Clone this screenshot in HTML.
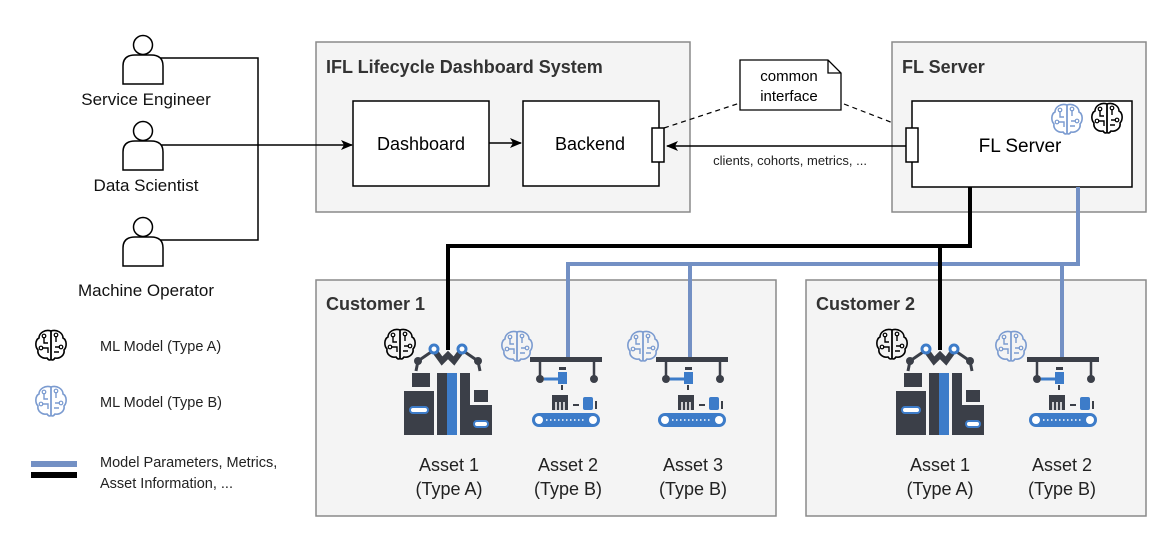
<!DOCTYPE html>
<html><head><meta charset="utf-8"><style>body{margin:0;background:#fff}svg{display:block}text{font-family:"Liberation Sans",Arial,sans-serif}</style></head>
<body>
<svg width="1172" height="538" viewBox="0 0 1172 538" xmlns="http://www.w3.org/2000/svg">
<defs>
<marker id="ar" markerWidth="12" markerHeight="10" refX="11" refY="5" orient="auto" markerUnits="userSpaceOnUse"><path d="M0,0 L12,5 L0,10 L3,5 Z" fill="#000"/></marker>
<g id="brain">
<path d="M0,-14 C-6,-16 -12,-12 -12,-7 C-16,-5 -16,2 -13,5 C-14,10 -9,14 -4,13 C-2,16 0,15 0,14 Z M0,-14 C6,-16 12,-12 12,-7 C16,-5 16,2 13,5 C14,10 9,14 4,13 C2,16 0,15 0,14 Z" fill="none" stroke-width="1.6"/>
<path d="M0,-14 V14 M-7,-8 V-2 H-3 M-9,3 H-3 V8 M5,-9 V-3 M4,2 H9 M3,7 H8" fill="none" stroke-width="1.4"/>
<circle cx="-7" cy="-9" r="1.8" fill="none" stroke-width="1.2"/><circle cx="5" cy="-10" r="1.8" fill="none" stroke-width="1.2"/><circle cx="-10" cy="3" r="1.8" fill="none" stroke-width="1.2"/><circle cx="10" cy="2" r="1.8" fill="none" stroke-width="1.2"/>
</g>
<g id="robot">
<rect x="-36" y="10" width="18" height="14" fill="#3b3f48"/>
<rect x="-44" y="28" width="30" height="44" fill="#3b3f48"/>
<rect x="-11" y="10" width="10" height="62" fill="#3b3f48"/>
<rect x="-1" y="10" width="10" height="62" fill="#3d7cc9"/>
<rect x="12" y="10" width="10" height="62" fill="#3b3f48"/>
<rect x="26" y="27" width="14" height="12" fill="#3b3f48"/>
<rect x="22" y="42" width="22" height="30" fill="#3b3f48"/>
<rect x="-38" y="44" width="18" height="6" rx="3" fill="#fff" stroke="#3d7cc9" stroke-width="2"/>
<rect x="26" y="58" width="14" height="6" rx="3" fill="#fff" stroke="#3d7cc9" stroke-width="2"/>
<path d="M-14,-13 L-6,-2 L0,-8 L6,-2 L14,-13" fill="none" stroke="#3b3f48" stroke-width="6"/>
<path d="M-14,-13 L-30,-2 L-32,8 M14,-13 L30,-2 L32,8" fill="none" stroke="#3b3f48" stroke-width="3"/>
<circle cx="-14" cy="-14" r="4" fill="#fff" stroke="#3d7cc9" stroke-width="3"/><circle cx="14" cy="-14" r="4" fill="#fff" stroke="#3d7cc9" stroke-width="3"/>
<circle cx="-30" cy="-2" r="4" fill="#3b3f48"/><circle cx="30" cy="-2" r="4" fill="#3b3f48"/>
</g>
<g id="conv">
<rect x="-36" y="0" width="72" height="5" fill="#3b3f48"/>
<path d="M-26,5 V20 M28,5 V20" stroke="#3b3f48" stroke-width="2.5"/>
<circle cx="-26" cy="22" r="4" fill="#3b3f48"/><circle cx="28" cy="22" r="4" fill="#3b3f48"/>
<path d="M-22,22 H-6" stroke="#3d7cc9" stroke-width="3"/><rect x="-8" y="15" width="9" height="12" fill="#3d7cc9"/><rect x="-7" y="10" width="7" height="3" fill="#3b3f48"/><path d="M-4,28 V33" stroke="#3b3f48" stroke-width="2"/>
<rect x="-14" y="38" width="16" height="15" fill="#3b3f48"/><path d="M-10,45 V53 M-6,45 V53 M-2,45 V53" stroke="#fff" stroke-width="1.5"/>
<rect x="17" y="40" width="10" height="13" rx="2" fill="#3d7cc9"/><path d="M7,48 H13" stroke="#3b3f48" stroke-width="2"/><path d="M30,44 V52" stroke="#3b3f48" stroke-width="2"/>
<rect x="-34" y="56" width="68" height="14" rx="7" fill="#3d7cc9"/>
<circle cx="-27" cy="63" r="4" fill="#fff"/><circle cx="27" cy="63" r="4" fill="#fff"/>
<path d="M-20,63 H20" stroke="#fff" stroke-width="1.5" stroke-dasharray="1.5,2.5"/>
</g>
<g id="person"><circle cx="0" cy="-19" r="9.5" fill="#fff" stroke="#000" stroke-width="1.5"/><path d="M-20,20 V2 Q-20,-9 -8,-9 H8 Q20,-9 20,2 V20 Z" fill="#fff" stroke="#000" stroke-width="1.5"/></g>
</defs>

<!-- IFL box -->
<rect x="316" y="42" width="374" height="170" fill="#f4f4f4" stroke="#8a8a8a" stroke-width="1.5"/>
<text x="326" y="73" font-size="18" font-weight="bold" fill="#333">IFL Lifecycle Dashboard System</text>
<rect x="353" y="101" width="136" height="85" fill="#fff" stroke="#000" stroke-width="1.5"/>
<text x="421" y="150" font-size="18" text-anchor="middle">Dashboard</text>
<rect x="523" y="101" width="136" height="85" fill="#fff" stroke="#000" stroke-width="1.5"/>
<text x="590" y="150" font-size="18" text-anchor="middle">Backend</text>
<path d="M489,143 H521" stroke="#000" stroke-width="1.5" marker-end="url(#ar)"/>
<rect x="652" y="128" width="12" height="34" fill="#fff" stroke="#000" stroke-width="1.5"/>

<!-- persons and lines -->
<path d="M160,58 H258 V240 H160" fill="none" stroke="#000" stroke-width="1.5"/>
<path d="M160,145 H352" fill="none" stroke="#000" stroke-width="1.5" marker-end="url(#ar)"/>
<use href="#person" x="143" y="64"/>
<use href="#person" x="143" y="150"/>
<use href="#person" x="143" y="246"/>
<g font-size="17" text-anchor="middle" fill="#111">
<text x="146" y="105">Service Engineer</text>
<text x="146" y="191">Data Scientist</text>
<text x="146" y="296">Machine Operator</text>
</g>

<!-- note -->
<path d="M664,128 L740,103 M844,104 L906,128" stroke="#000" stroke-width="1.2" stroke-dasharray="5,4"/>
<path d="M740,60 H828 L841,73 V110 H740 Z M828,60 V73 H841" fill="#fff" stroke="#000" stroke-width="1.3"/>
<text x="789" y="81" font-size="15" text-anchor="middle">common</text>
<text x="789" y="101" font-size="15" text-anchor="middle">interface</text>

<!-- FL server -->
<rect x="892" y="42" width="254" height="170" fill="#f4f4f4" stroke="#8a8a8a" stroke-width="1.5"/>
<text x="902" y="73" font-size="18" font-weight="bold" fill="#333">FL Server</text>
<rect x="912" y="101" width="220" height="86" fill="#fff" stroke="#000" stroke-width="1.5"/>
<text x="1020" y="152" font-size="19" text-anchor="middle">FL Server</text>
<use href="#brain" x="1067" y="119" stroke="#7b9bd0"/>
<use href="#brain" x="1107" y="118" stroke="#000"/>
<path d="M906,146 H667" stroke="#000" stroke-width="1.5" marker-end="url(#ar)"/>
<rect x="906" y="128" width="12" height="34" fill="#fff" stroke="#000" stroke-width="1.5"/>
<text x="790" y="165" font-size="13" text-anchor="middle" fill="#222">clients, cohorts, metrics, ...</text>

<!-- customers -->
<rect x="316" y="280" width="460" height="236" fill="#f4f4f4" stroke="#8a8a8a" stroke-width="1.5"/>
<text x="326" y="310" font-size="18" font-weight="bold" fill="#333">Customer 1</text>
<rect x="806" y="280" width="340" height="236" fill="#f4f4f4" stroke="#8a8a8a" stroke-width="1.5"/>
<text x="816" y="310" font-size="18" font-weight="bold" fill="#333">Customer 2</text>

<!-- connectors -->
<path d="M1078,187 V264 H568 V357 M690,264 V357 M1062,264 V357" fill="none" stroke="#7390c4" stroke-width="4"/>
<path d="M970,187 V246 H448 V350 M940,246 V350" fill="none" stroke="#000" stroke-width="4"/>

<!-- assets -->
<use href="#robot" x="448" y="363"/>
<use href="#robot" x="940" y="363"/>
<use href="#conv" x="566" y="357"/>
<use href="#conv" x="692" y="357"/>
<use href="#conv" x="1063" y="357"/>
<use href="#brain" x="400" y="344" stroke="#000"/>
<use href="#brain" x="517" y="346" stroke="#7b9bd0"/>
<use href="#brain" x="643" y="346" stroke="#7b9bd0"/>
<use href="#brain" x="892" y="344" stroke="#000"/>
<use href="#brain" x="1011" y="346" stroke="#7b9bd0"/>
<g font-size="18" text-anchor="middle" fill="#222">
<text x="449" y="471">Asset 1</text><text x="449" y="495">(Type A)</text>
<text x="568" y="471">Asset 2</text><text x="568" y="495">(Type B)</text>
<text x="693" y="471">Asset 3</text><text x="693" y="495">(Type B)</text>
<text x="940" y="471">Asset 1</text><text x="940" y="495">(Type A)</text>
<text x="1062" y="471">Asset 2</text><text x="1062" y="495">(Type B)</text>
</g>

<!-- legend -->
<use href="#brain" x="51" y="345" stroke="#000"/>
<use href="#brain" x="51" y="401" stroke="#7b9bd0"/>
<g font-size="14.5" fill="#222">
<text x="100" y="351">ML Model (Type A)</text>
<text x="100" y="407">ML Model (Type B)</text>
<text x="100" y="467">Model Parameters, Metrics,</text>
<text x="100" y="488">Asset Information, ...</text>
</g>
<rect x="31" y="461" width="46" height="6" fill="#7390c4"/>
<rect x="31" y="472" width="46" height="6" fill="#000"/>
</svg>
</body></html>
